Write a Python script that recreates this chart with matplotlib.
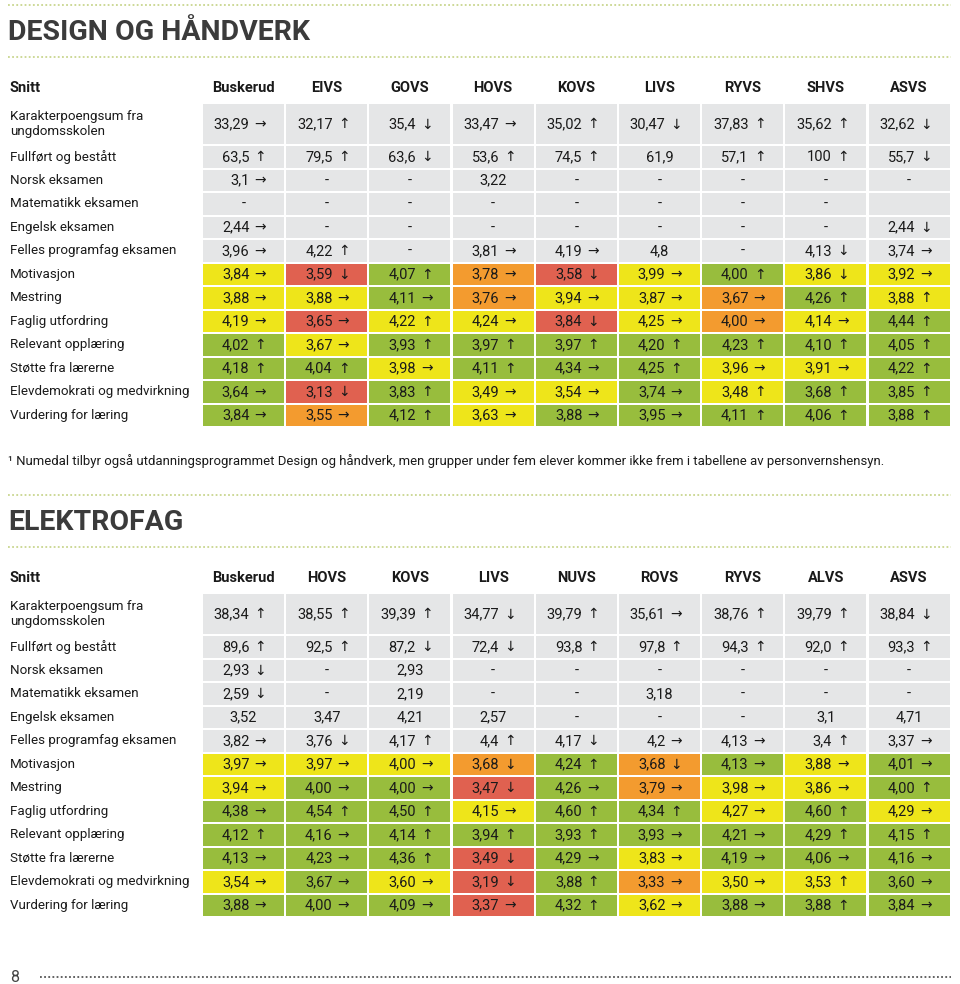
import matplotlib
matplotlib.use("Agg")
import matplotlib.pyplot as plt
from matplotlib.patches import Rectangle

FONT = ['Roboto', 'DejaVu Sans']
ARROW_FONT = ['DejaVu Sans']

row_labels = ["Karakterpoengsum fra\nungdomsskolen", "Fullført og bestått", "Norsk eksamen",
              "Matematikk eksamen", "Engelsk eksamen", "Felles programfag eksamen",
              "Motivasjon", "Mestring", "Faglig utfordring", "Relevant opplæring",
              "Støtte fra lærerne", "Elevdemokrati og medvirkning", "Vurdering for læring"]

# ---------------- DESIGN OG HÅNDVERK ----------------
dh_title = "DESIGN OG HÅNDVERK"
dh_cols = ["Buskerud", "EIVS", "GOVS", "HOVS", "KOVS", "LIVS", "RYVS", "SHVS", "ASVS"]
dh_values = [
    ["33,29", "32,17", "35,4", "33,47", "35,02", "30,47", "37,83", "35,62", "32,62"],
    ["63,5", "79,5", "63,6", "53,6", "74,5", "61,9", "57,1", "100", "55,7"],
    ["3,1", "-", "-", "3,22", "-", "-", "-", "-", "-"],
    ["-", "-", "-", "-", "-", "-", "-", "-", ""],
    ["2,44", "-", "-", "-", "-", "-", "-", "-", "2,44"],
    ["3,96", "4,22", "-", "3,81", "4,19", "4,8", "-", "4,13", "3,74"],
    ["3,84", "3,59", "4,07", "3,78", "3,58", "3,99", "4,00", "3,86", "3,92"],
    ["3,88", "3,88", "4,11", "3,76", "3,94", "3,87", "3,67", "4,26", "3,88"],
    ["4,19", "3,65", "4,22", "4,24", "3,84", "4,25", "4,00", "4,14", "4,44"],
    ["4,02", "3,67", "3,93", "3,97", "3,97", "4,20", "4,23", "4,10", "4,05"],
    ["4,18", "4,04", "3,98", "4,11", "4,34", "4,25", "3,96", "3,91", "4,22"],
    ["3,64", "3,13", "3,83", "3,49", "3,54", "3,74", "3,48", "3,68", "3,85"],
    ["3,84", "3,55", "4,12", "3,63", "3,88", "3,95", "4,11", "4,06", "3,88"],
]
dh_arrows = [
    ["r", "u", "d", "r", "u", "d", "u", "u", "d"],
    ["u", "u", "d", "u", "u", "", "u", "u", "d"],
    ["r", "", "", "", "", "", "", "", ""],
    ["", "", "", "", "", "", "", "", ""],
    ["r", "", "", "", "", "", "", "", "d"],
    ["r", "u", "", "r", "r", "", "", "d", "r"],
    ["r", "d", "u", "r", "d", "r", "u", "d", "r"],
    ["r", "r", "r", "r", "r", "r", "r", "u", "u"],
    ["r", "r", "u", "r", "d", "r", "r", "r", "u"],
    ["u", "r", "u", "u", "u", "u", "u", "u", "u"],
    ["u", "u", "r", "u", "r", "u", "r", "r", "u"],
    ["r", "d", "u", "r", "r", "r", "u", "u", "u"],
    ["r", "r", "u", "r", "r", "r", "u", "u", "u"],
]
dh_colors = [
    ["n"] * 9, ["n"] * 9, ["n"] * 9, ["n"] * 9, ["n"] * 9, ["n"] * 9,
    ["y", "r", "g", "o", "r", "y", "g", "y", "y"],
    ["y", "y", "g", "o", "y", "y", "o", "g", "y"],
    ["y", "r", "y", "y", "r", "y", "o", "y", "g"],
    ["g", "y", "g", "g", "g", "g", "g", "g", "g"],
    ["g", "g", "y", "g", "g", "g", "y", "y", "g"],
    ["g", "r", "g", "y", "y", "g", "y", "g", "g"],
    ["g", "o", "g", "y", "g", "g", "g", "g", "g"],
]

# ---------------- ELEKTROFAG ----------------
el_title = "ELEKTROFAG"
el_cols = ["Buskerud", "HOVS", "KOVS", "LIVS", "NUVS", "ROVS", "RYVS", "ALVS", "ASVS"]
el_values = [
    ["38,34", "38,55", "39,39", "34,77", "39,79", "35,61", "38,76", "39,79", "38,84"],
    ["89,6", "92,5", "87,2", "72,4", "93,8", "97,8", "94,3", "92,0", "93,3"],
    ["2,93", "-", "2,93", "-", "-", "-", "-", "-", "-"],
    ["2,59", "-", "2,19", "-", "-", "3,18", "-", "-", "-"],
    ["3,52", "3,47", "4,21", "2,57", "-", "-", "-", "3,1", "4,71"],
    ["3,82", "3,76", "4,17", "4,4", "4,17", "4,2", "4,13", "3,4", "3,37"],
    ["3,97", "3,97", "4,00", "3,68", "4,24", "3,68", "4,13", "3,88", "4,01"],
    ["3,94", "4,00", "4,00", "3,47", "4,26", "3,79", "3,98", "3,86", "4,00"],
    ["4,38", "4,54", "4,50", "4,15", "4,60", "4,34", "4,27", "4,60", "4,29"],
    ["4,12", "4,16", "4,14", "3,94", "3,93", "3,93", "4,21", "4,29", "4,15"],
    ["4,13", "4,23", "4,36", "3,49", "4,29", "3,83", "4,19", "4,06", "4,16"],
    ["3,54", "3,67", "3,60", "3,19", "3,88", "3,33", "3,50", "3,53", "3,60"],
    ["3,88", "4,00", "4,09", "3,37", "4,32", "3,62", "3,88", "3,88", "3,84"],
]
el_arrows = [
    ["u", "u", "u", "d", "u", "r", "u", "u", "d"],
    ["u", "u", "d", "d", "u", "u", "u", "u", "u"],
    ["d", "", "", "", "", "", "", "", ""],
    ["d", "", "", "", "", "", "", "", ""],
    ["", "", "", "", "", "", "", "", ""],
    ["r", "d", "u", "u", "d", "r", "r", "u", "r"],
    ["r", "r", "r", "d", "u", "d", "r", "r", "r"],
    ["r", "r", "r", "d", "r", "r", "r", "r", "u"],
    ["r", "u", "u", "r", "u", "u", "r", "u", "r"],
    ["u", "r", "u", "u", "u", "r", "r", "u", "u"],
    ["r", "r", "u", "d", "r", "r", "r", "r", "r"],
    ["r", "r", "r", "d", "u", "r", "r", "u", "r"],
    ["r", "r", "r", "r", "u", "r", "r", "u", "r"],
]
el_colors = [
    ["n"] * 9, ["n"] * 9, ["n"] * 9, ["n"] * 9, ["n"] * 9, ["n"] * 9,
    ["y", "y", "y", "o", "g", "o", "g", "y", "g"],
    ["y", "g", "g", "r", "g", "o", "y", "y", "g"],
    ["g", "g", "g", "y", "g", "g", "y", "g", "y"],
    ["g", "g", "g", "g", "g", "g", "g", "g", "g"],
    ["g", "g", "g", "r", "g", "y", "g", "g", "g"],
    ["y", "g", "y", "r", "g", "o", "y", "y", "g"],
    ["g", "g", "g", "r", "g", "y", "g", "g", "g"],
]

footnote = ("¹ Numedal tilbyr også utdanningsprogrammet Design og håndverk, men grupper under fem "
            "elever kommer ikke frem i tabellene av personvernshensyn.")
page_number = "8"

ARROW = {"u": "↑", "d": "↓", "r": "→", "": ""}
FILL = {"n": "#e5e6e7", "y": "#eee51a", "g": "#98bd3d", "o": "#f39b2f", "r": "#e06150"}
TXT = "#1a1a1a"

fig = plt.figure(figsize=(9.6, 9.84), dpi=100)
ax = fig.add_axes([0, 0, 1, 1])
ax.set_xlim(0, 960)
ax.set_ylim(984, 0)
ax.axis("off")

X0, PITCH, CW = 203.0, 83.2, 81.0
ROW1_H, PITCH_R, RH = 40.0, 23.5, 21.5


def dotted(y, x0=8, x1=951, color="#c9d68f"):
    ax.plot([x0, x1], [y, y], color=color, lw=1.3, linestyle=(0, (1, 1.3)),
            solid_capstyle="round")


def section(top, title, cols, values, arrows, colors):
    dotted(top + 5)
    ax.text(8, top + 32, title, fontsize=20.5, fontweight="bold", color="#3b3b3b",
            family=FONT, va="center", ha="left")
    dotted(top + 57)
    hy = top + 88
    ax.text(10, hy, "Snitt", fontsize=10.5, fontweight="bold", color=TXT,
            family=FONT, va="center", ha="left")
    for j, c in enumerate(cols):
        ax.text(X0 + CW / 2 + j * PITCH, hy, c, fontsize=10.5, fontweight="bold",
                color=TXT, family=FONT, va="center", ha="center")
    y = top + 104
    for i, lab in enumerate(row_labels):
        h = ROW1_H if i == 0 else RH
        cy = y + h / 2
        ax.text(10, cy, lab, fontsize=9.6, color=TXT, family=FONT, va="center",
                ha="left", linespacing=1.2)
        for j in range(len(cols)):
            x = X0 + j * PITCH
            xc = x + CW / 2
            ax.add_patch(Rectangle((x, y), CW, h, facecolor=FILL[colors[i][j]],
                                   edgecolor="none"))
            v = values[i][j]
            a = ARROW[arrows[i][j]]
            if a:
                ax.text(xc + 6, cy + 0.5, v, fontsize=10.5, color=TXT, family=FONT,
                        va="center", ha="right")
                ax.text(xc + 11, cy + 0.5, a, fontsize=10, color=TXT,
                        family=ARROW_FONT, va="center", ha="left")
            else:
                ax.text(xc, cy + 0.5, v, fontsize=10.5, color=TXT, family=FONT,
                        va="center", ha="center")
        y += (ROW1_H + 2) if i == 0 else PITCH_R


section(0, dh_title, dh_cols, dh_values, dh_arrows, dh_colors)
ax.text(8, 461, footnote, fontsize=9.45, color=TXT, family=FONT, va="center", ha="left")
section(490, el_title, el_cols, el_values, el_arrows, el_colors)

ax.text(10, 977, page_number, fontsize=11.5, color="#444444", family=FONT, va="center",
        ha="left")
dotted(977, x0=40, x1=951, color="#555555")

fig.savefig("out.png", dpi=100, facecolor="white")
